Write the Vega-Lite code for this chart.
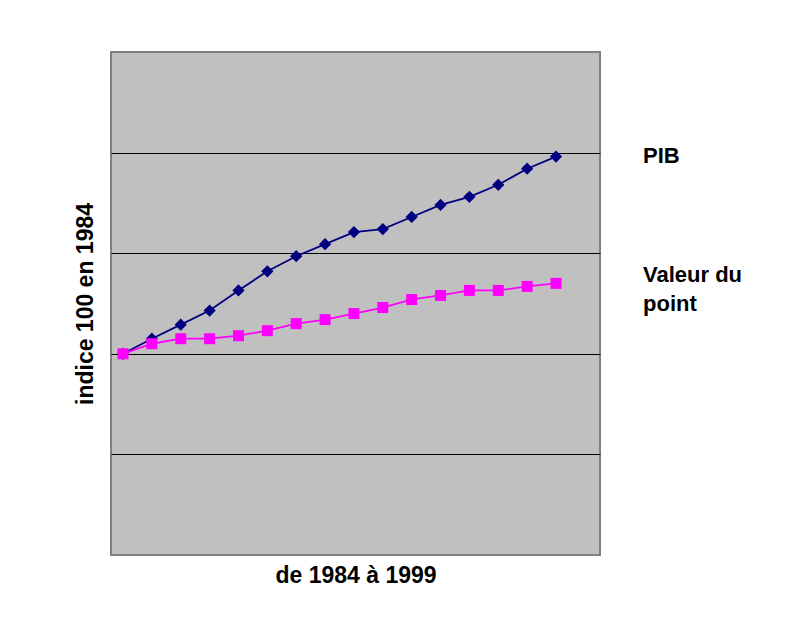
{
  "$schema": "https://vega.github.io/schema/vega-lite/v6.json",
  "width": 489,
  "height": 503,
  "autosize": {"type": "none"},
  "padding": {"left": 111, "top": 52, "right": 185, "bottom": 77},
  "background": "white",
  "config": {
    "font": "Liberation Sans",
    "view": {"fill": "#C0C0C0", "stroke": "#808080", "strokeWidth": 2}
  },
  "data": {
    "values": [
      {"annee": 1984, "serie": "PIB", "indice": 100},
      {"annee": 1985, "serie": "PIB", "indice": 101.5},
      {"annee": 1986, "serie": "PIB", "indice": 102.9},
      {"annee": 1987, "serie": "PIB", "indice": 104.3},
      {"annee": 1988, "serie": "PIB", "indice": 106.3},
      {"annee": 1989, "serie": "PIB", "indice": 108.2},
      {"annee": 1990, "serie": "PIB", "indice": 109.7},
      {"annee": 1991, "serie": "PIB", "indice": 110.9},
      {"annee": 1992, "serie": "PIB", "indice": 112.1},
      {"annee": 1993, "serie": "PIB", "indice": 112.4},
      {"annee": 1994, "serie": "PIB", "indice": 113.6},
      {"annee": 1995, "serie": "PIB", "indice": 114.8},
      {"annee": 1996, "serie": "PIB", "indice": 115.6},
      {"annee": 1997, "serie": "PIB", "indice": 116.8},
      {"annee": 1998, "serie": "PIB", "indice": 118.4},
      {"annee": 1999, "serie": "PIB", "indice": 119.6},
      {"annee": 1984, "serie": "Valeur du point", "indice": 100},
      {"annee": 1985, "serie": "Valeur du point", "indice": 101.0},
      {"annee": 1986, "serie": "Valeur du point", "indice": 101.5},
      {"annee": 1987, "serie": "Valeur du point", "indice": 101.5},
      {"annee": 1988, "serie": "Valeur du point", "indice": 101.8},
      {"annee": 1989, "serie": "Valeur du point", "indice": 102.3},
      {"annee": 1990, "serie": "Valeur du point", "indice": 103.0},
      {"annee": 1991, "serie": "Valeur du point", "indice": 103.4},
      {"annee": 1992, "serie": "Valeur du point", "indice": 104.0},
      {"annee": 1993, "serie": "Valeur du point", "indice": 104.6},
      {"annee": 1994, "serie": "Valeur du point", "indice": 105.4},
      {"annee": 1995, "serie": "Valeur du point", "indice": 105.8},
      {"annee": 1996, "serie": "Valeur du point", "indice": 106.3},
      {"annee": 1997, "serie": "Valeur du point", "indice": 106.3},
      {"annee": 1998, "serie": "Valeur du point", "indice": 106.7},
      {"annee": 1999, "serie": "Valeur du point", "indice": 107.0}
    ]
  },
  "encoding": {
    "x": {
      "field": "annee",
      "type": "quantitative",
      "scale": {"domain": [1983.584, 2000.524], "nice": false, "zero": false},
      "axis": {
        "title": "de 1984 à 1999",
        "titleFontSize": 23,
        "titleFontWeight": "bold",
        "titleColor": "#000000",
        "titlePadding": 9,
        "labels": false,
        "ticks": false,
        "domain": false,
        "grid": false
      }
    },
    "y": {
      "field": "indice",
      "type": "quantitative",
      "scale": {"domain": [80, 130], "nice": false, "zero": false},
      "axis": {
        "title": "indice 100 en 1984",
        "titleFontSize": 23,
        "titleFontWeight": "bold",
        "titleColor": "#000000",
        "titlePadding": 14,
        "values": [90, 100, 110, 120],
        "labels": false,
        "ticks": false,
        "domain": false,
        "grid": true,
        "gridColor": "#000000",
        "gridOpacity": 1,
        "gridWidth": 1
      }
    },
    "color": {
      "field": "serie",
      "type": "nominal",
      "scale": {"domain": ["PIB", "Valeur du point"], "range": ["#000080", "#FF00FF"]},
      "legend": null
    }
  },
  "layer": [
    {
      "mark": {"type": "line", "strokeWidth": 1.8},
      "encoding": {"detail": {"field": "serie"}}
    },
    {
      "mark": {"type": "point", "filled": true, "opacity": 1},
      "encoding": {
        "shape": {
          "field": "serie",
          "type": "nominal",
          "scale": {"domain": ["PIB", "Valeur du point"], "range": ["diamond", "square"]},
          "legend": null
        },
        "size": {
          "field": "serie",
          "type": "nominal",
          "scale": {"domain": ["PIB", "Valeur du point"], "range": [150, 121]},
          "legend": null
        }
      }
    },
    {
      "transform": [{"filter": "datum.annee == 1999 && datum.serie == 'PIB'"}],
      "mark": {
        "type": "text",
        "align": "left",
        "baseline": "alphabetic",
        "dx": 87,
        "dy": 6.5,
        "fontSize": 22,
        "fontWeight": "bold",
        "color": "#000000"
      },
      "encoding": {"text": {"field": "serie"}, "color": {"value": "#000000"}}
    },
    {
      "transform": [{"filter": "datum.annee == 1999 && datum.serie == 'Valeur du point'"}],
      "mark": {
        "type": "text",
        "align": "left",
        "baseline": "alphabetic",
        "dx": 87,
        "dy": -1.3,
        "fontSize": 22,
        "fontWeight": "bold",
        "lineHeight": 29,
        "color": "#000000"
      },
      "encoding": {"text": {"value": ["Valeur du", "point"]}, "color": {"value": "#000000"}}
    }
  ]
}
